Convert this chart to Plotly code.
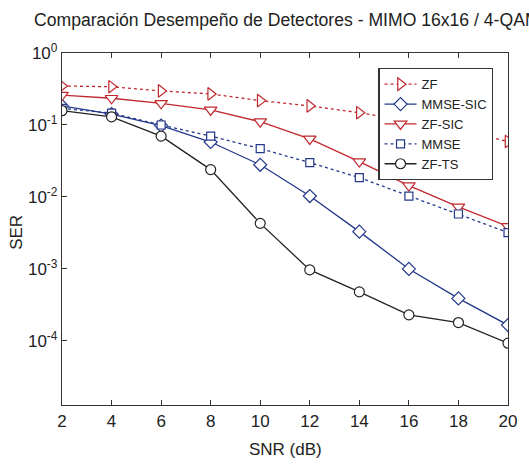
import plotly.graph_objects as go

snr = [2, 4, 6, 8, 10, 12, 14, 16, 18, 20]
ser_zf = [0.348, 0.34, 0.297, 0.27, 0.218, 0.184, 0.148, 0.114, 0.085, 0.059]
ser_mmse_sic = [0.184, 0.142, 0.098, 0.058, 0.028, 0.0103, 0.0033, 0.001, 0.00039, 0.000166]
ser_zf_sic = [0.26, 0.235, 0.2, 0.162, 0.111, 0.064, 0.031, 0.0144, 0.0073, 0.0039]
ser_mmse = [0.17, 0.146, 0.1, 0.07, 0.047, 0.030, 0.0186, 0.0103, 0.0058, 0.0032]
ser_zf_ts = [0.158, 0.13, 0.070, 0.024, 0.0043, 0.00097, 0.00048, 0.00023, 0.00018, 0.000093]

ytick_vals = [1, 0.1, 0.01, 0.001, 0.0001]
ytick_text = ["10<sup>0</sup>", "10<sup>-1</sup>", "10<sup>-2</sup>", "10<sup>-3</sup>", "10<sup>-4</sup>"]
xtick_vals = [2, 4, 6, 8, 10, 12, 14, 16, 18, 20]

RED = "#C0282D"
BLUE = "#24388A"
BLACK = "#222222"

series = [
    ("ZF", ser_zf, RED, "dot", "triangle-right", 11),
    ("MMSE-SIC", ser_mmse_sic, BLUE, "solid", "diamond", 10),
    ("ZF-SIC", ser_zf_sic, RED, "solid", "triangle-down", 11),
    ("MMSE", ser_mmse, BLUE, "dot", "square", 8),
    ("ZF-TS", ser_zf_ts, BLACK, "solid", "circle", 10),
]

fig = go.Figure()
for name, vals, col, dash, sym, size in series:
    fig.add_trace(go.Scatter(
        x=snr, y=vals, name=name, mode="lines+markers",
        line=dict(color=col, width=1.3, dash=dash),
        marker=dict(symbol=sym, size=size, color="white",
                    line=dict(color=col, width=1.2)),
    ))

W, H = 529, 464
L, R, T, B = 62, 13, 53, 59
W_plot = W - L - R
H_plot = H - T - B

font = "Liberation Sans, Arial, sans-serif"
fig.update_layout(
    width=W, height=H,
    margin=dict(l=L, r=R, t=T, b=B),
    paper_bgcolor="white", plot_bgcolor="white",
    font=dict(family=font, size=17, color="#222222"),
    showlegend=True,
    legend=dict(x=(384 - L) / W_plot, y=(H - B - 68) / H_plot, xanchor="left", yanchor="top",
                bgcolor="white", bordercolor="#333333", borderwidth=1.2,
                font=dict(size=13, color="#222222"),
                tracegroupgap=0, itemwidth=32),
    xaxis=dict(range=[2, 20], tickvals=xtick_vals, ticks="inside", ticklen=5,
               tickcolor="#333333", showline=True, linecolor="#333333", linewidth=1.3,
               mirror="ticks", showgrid=False, zeroline=False),
    yaxis=dict(type="log", range=[-4.89, 0], tickvals=ytick_vals, ticktext=ytick_text,
               ticks="inside", ticklen=5, tickcolor="#333333", showline=True,
               linecolor="#333333", linewidth=1.3, mirror=True, showgrid=False,
               zeroline=False),
    annotations=[
        dict(text="Comparación Desempeño de Detectores - MIMO 16x16 / 4-QAM",
             xref="paper", yref="paper", x=(31 - L) / W_plot, y=(H - B - 20) / H_plot,
             xanchor="left", yanchor="middle", showarrow=False,
             font=dict(size=17.6)),
        dict(text="SNR (dB)", xref="paper", yref="paper", x=0.5,
             y=(H - B - 449) / H_plot, xanchor="center", yanchor="middle",
             showarrow=False, font=dict(size=17)),
        dict(text="SER", xref="paper", yref="paper", x=(15 - L) / W_plot,
             y=(H - B - 232) / H_plot, xanchor="center", yanchor="middle",
             showarrow=False, textangle=-90, font=dict(size=17)),
    ],
)

fig.write_html("out.html", config={"displayModeBar": False},
               post_script="document.body.style.margin='0';document.body.style.overflow='hidden';")
